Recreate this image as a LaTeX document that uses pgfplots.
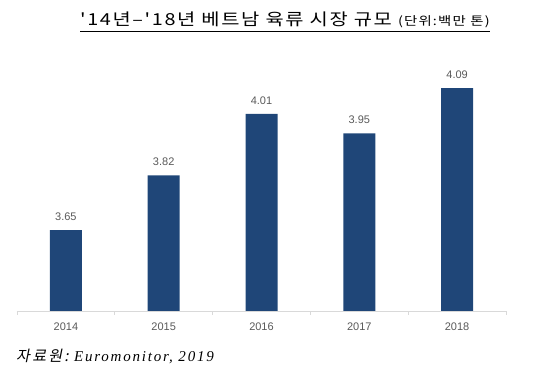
\documentclass[border=0pt]{standalone}
\usepackage{fontspec}
\setmainfont{Liberation Sans}
\newfontfamily\cjk[FakeStretch=1.2,LetterSpace=10]{Noto Sans CJK KR}
\newfontfamily\cjksl[FakeSlant=0.2,LetterSpace=15]{Noto Sans CJK KR}
\newfontfamily\seritf[LetterSpace=12]{Liberation Serif}
\usepackage{pgfplots}
\pgfplotsset{compat=1.18}
\definecolor{barblue}{HTML}{1F4678}
\definecolor{lblgrey}{HTML}{595959}
\definecolor{axgrey}{HTML}{D9D9D9}
\begin{document}
\begin{tikzpicture}[x=1pt,y=1pt]
\useasboundingbox (0,0) rectangle (546,377);
\begin{axis}[
  at={(17pt,66pt)}, anchor=south west,
  scale only axis, width=489pt, height=258.5pt,
  ymin=3.4, ymax=4.2, xmin=-0.5, xmax=4.5,
  axis x line=bottom, axis y line=none,
  axis line style={-, draw=axgrey, line width=0.8pt},
  xtick=data, xticklabels={2014,2015,2016,2017,2018},
  major x tick style={draw=none},
  minor xtick={-0.5,0.5,1.5,2.5,3.5,4.5},
  minor x tick style={draw=axgrey, line width=0.8pt},
  minor tick length=4pt, xtick align=outside,
  ticklabel style={font=\fontsize{11}{13}\selectfont, text=lblgrey},
  xticklabel style={yshift=-4pt},
  /pgf/number format/assume math mode=true,
  ybar, bar width=32pt,
  nodes near coords,
  nodes near coords style={font=\fontsize{11}{13}\selectfont, text=lblgrey, /pgf/number format/fixed, /pgf/number format/fixed zerofill, /pgf/number format/precision=2, yshift=6pt},
  clip=false,
]
\addplot[fill=barblue, draw=none] coordinates {(0,3.65) (1,3.82) (2,4.01) (3,3.95) (4,4.09)};
\end{axis}
\node[anchor=base west, inner sep=0] (t) at (80,351) {\cjk\fontsize{16.5}{20}\selectfont '14년–'18년 베트남 육류 시장 규모 \fontsize{12}{14}\selectfont(단위:백만 톤)};
\draw[line width=0.8pt] (t.west |- 0,346) -- (t.east |- 0,346);
\node[anchor=base west, inner sep=0] at (16,15) {\fontsize{15}{17}\selectfont{\cjksl 자료원:} {\seritf\itshape Euromonitor, 2019}};
\end{tikzpicture}
\end{document}
